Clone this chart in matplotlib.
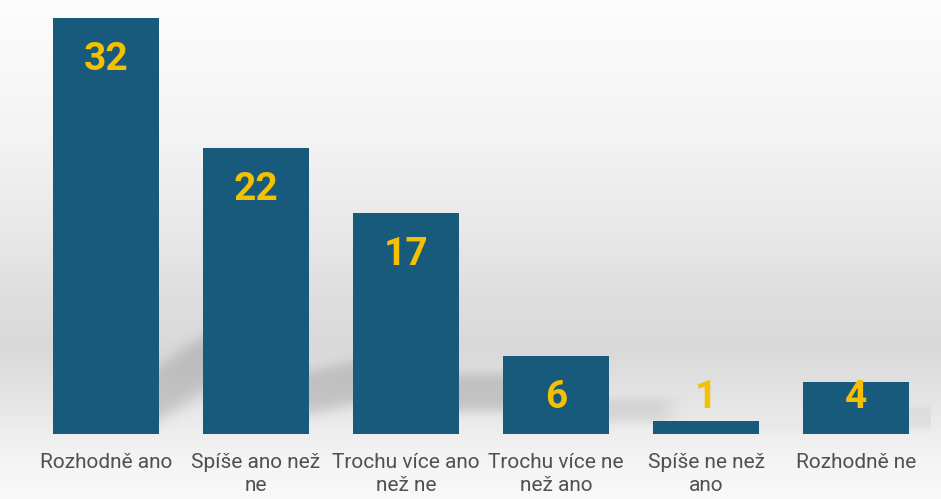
import numpy as np
import matplotlib.pyplot as plt
from matplotlib.colors import LinearSegmentedColormap

categories = ['Rozhodně ano', 'Spíše ano než\nne', 'Trochu více ano\nnež ne',
              'Trochu více ne\nnež ano', 'Spíše ne než\nano', 'Rozhodně ne']
values = [32, 22, 17, 6, 1, 4]

bar_color = '#185a7b'
label_color = '#f4c000'
text_color = '#505050'
bar_w = 0.707

fig = plt.figure(figsize=(9.41, 4.99), dpi=100)

# background gradient, fractions measured from the bottom of the figure
bg = fig.add_axes([0, 0, 1, 1], zorder=-1)
stops = [(0.0, '#f9f9f9'), (0.08, '#f4f4f4'), (0.13, '#eeeeee'),
         (0.20, '#e4e4e4'), (0.30, '#d9d9d9'), (0.40, '#dedede'),
         (0.55, '#e9e9e9'), (0.72, '#f3f3f3'), (1.0, '#fdfdfd')]
cmap = LinearSegmentedColormap.from_list('bg', stops)
grad = np.linspace(0, 1, 256).reshape(-1, 1)
bg.imshow(grad, aspect='auto', cmap=cmap, extent=[0, 1, 0, 1], origin='lower')
bg.set_xlim(0, 1)
bg.set_ylim(0, 1)
bg.axis('off')

ax = fig.add_axes([31 / 941, 65 / 499, 900 / 941, 416 / 499])
ax.patch.set_alpha(0)
x = np.arange(len(values))

# soft diagonal shadows behind/right of each bar
gx, gy = np.meshgrid(np.linspace(-0.5, 5.5, 1200), np.linspace(0, 12, 300))
shade = np.zeros_like(gx)
for xi, v in zip(x, values):
    xr = xi + bar_w / 2
    t = np.clip((gx - xr) / 0.29, 0, None)
    c = min(3.2, 0.3 * v) + max(0, (v - 17) * 0.14) * t
    hw = 0.05 * v + 0.7
    prof = np.exp(-((gy - c) / hw) ** 4)
    env = np.exp(-np.clip(gx - (xr + 0.3), 0, None) ** 2 / 0.02)
    env *= (gx > xi)
    shade += 0.2 * min(1, v / 12) * prof * env
rgba = np.zeros(gx.shape + (4,))
rgba[..., :3] = 0.25
rgba[..., 3] = np.clip(shade, 0, 1)
ax.imshow(rgba, extent=[-0.5, 5.5, 0, 12], origin='lower', aspect='auto',
          interpolation='bilinear', zorder=1)

ax.bar(x, values, width=bar_w, color=bar_color, zorder=2)
ax.set_xlim(-0.5, len(values) - 0.5)
ax.set_ylim(0, 32)

for xi, v in zip(x, values):
    ax.text(xi, max(v - 3.2, 2.8), str(v), ha='center', va='center',
            fontsize=28, fontweight='bold', family='Roboto',
            color=label_color, zorder=3)

ax.set_xticks(x)
ax.set_xticklabels(categories, fontsize=15, family='Roboto',
                   color=text_color, linespacing=1.22)
ax.tick_params(axis='x', length=0, pad=14)
ax.set_yticks([])
for s in ax.spines.values():
    s.set_visible(False)

fig.savefig('out.png', dpi=100)
